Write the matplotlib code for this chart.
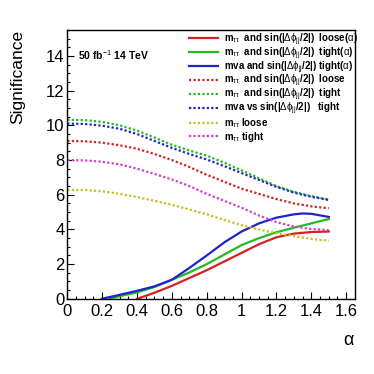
import matplotlib
matplotlib.use("Agg")
import matplotlib.pyplot as plt
from matplotlib.ticker import MultipleLocator

plt.rcParams['font.family'] = ['Liberation Sans', 'DejaVu Sans']
plt.rcParams['mathtext.fontset'] = 'custom'
plt.rcParams['mathtext.rm'] = 'Liberation Sans'
plt.rcParams['mathtext.it'] = 'Liberation Sans'
plt.rcParams['mathtext.bf'] = 'Liberation Sans:bold'

# dotted (fixed-cut) curves, alpha grid
x_dot = [0.0, 0.1, 0.2, 0.3, 0.4, 0.5, 0.6, 0.7, 0.8, 0.9, 1.0, 1.1, 1.2, 1.3, 1.4, 1.5]
mtt_sin_loose = [9.10, 9.08, 9.00, 8.85, 8.65, 8.35, 8.00, 7.60, 7.15, 6.75, 6.35, 6.05, 5.75, 5.50, 5.33, 5.22]
mtt_sin_tight = [10.32, 10.30, 10.20, 10.00, 9.70, 9.30, 8.88, 8.55, 8.25, 7.85, 7.40, 6.95, 6.50, 6.17, 5.92, 5.72]
mva_sin_tight = [10.10, 10.08, 9.98, 9.80, 9.50, 9.10, 8.70, 8.35, 8.03, 7.65, 7.25, 6.85, 6.45, 6.12, 5.88, 5.70]
mtt_loose = [6.28, 6.27, 6.20, 6.05, 5.87, 5.65, 5.42, 5.15, 4.87, 4.55, 4.25, 4.00, 3.78, 3.62, 3.45, 3.35]
mtt_tight = [8.00, 7.98, 7.90, 7.75, 7.50, 7.20, 6.88, 6.50, 6.05, 5.65, 5.25, 4.80, 4.42, 4.17, 4.02, 3.96]

# alpha-dependent curves
x_red = [0.40, 0.5, 0.6, 0.7, 0.8, 0.9, 1.0, 1.1, 1.2, 1.3, 1.4, 1.5]
y_red = [0.00, 0.35, 0.75, 1.20, 1.65, 2.15, 2.65, 3.15, 3.55, 3.76, 3.85, 3.88]
x_green = [0.245, 0.3, 0.4, 0.5, 0.6, 0.7, 0.8, 0.9, 1.0, 1.1, 1.2, 1.3, 1.4, 1.5]
y_green = [0.00, 0.15, 0.37, 0.68, 1.10, 1.52, 2.00, 2.55, 3.10, 3.50, 3.84, 4.10, 4.35, 4.60]
x_blue = [0.197, 0.3, 0.4, 0.5, 0.6, 0.7, 0.8, 0.9, 1.0, 1.1, 1.2, 1.3, 1.35, 1.4, 1.5]
y_blue = [0.00, 0.23, 0.46, 0.72, 1.10, 1.78, 2.50, 3.25, 3.88, 4.35, 4.68, 4.87, 4.92, 4.90, 4.72]

labels = [
    r'm$_{\tau\tau}$  and sin(|$\Delta\phi_{jj}$/2|)  loose($\alpha$)',
    r'm$_{\tau\tau}$  and sin(|$\Delta\phi_{jj}$/2|)  tight($\alpha$)',
    r'mva and sin(|$\Delta\phi_{jj}$/2|) tight($\alpha$)',
    r'm$_{\tau\tau}$  and sin(|$\Delta\phi_{jj}$/2|)  loose',
    r'm$_{\tau\tau}$  and sin(|$\Delta\phi_{jj}$/2|)  tight',
    r'mva vs sin(|$\Delta\phi_{jj}$/2|)   tight',
    r'm$_{\tau\tau}$ loose',
    r'm$_{\tau\tau}$ tight',
]

RED = '#d42222'
GREEN = '#22bb22'
BLUE = '#2222cc'
YELLOW = '#c8bf22'
MAG = '#d040d0'

fig = plt.figure(figsize=(3.74, 3.74), dpi=100)
ax = fig.add_axes([0.180, 0.201, 0.769, 0.719])

lw_s = 1.6
lw_d = 1.6
dot = (0, (1, 1))
h = []
h += ax.plot(x_red, y_red, color=RED, lw=lw_s, label=labels[0])
h += ax.plot(x_green, y_green, color=GREEN, lw=lw_s, label=labels[1])
h += ax.plot(x_blue, y_blue, color=BLUE, lw=lw_s, label=labels[2])
h += ax.plot(x_dot, mtt_sin_loose, color=RED, lw=lw_d, ls=dot, label=labels[3])
h += ax.plot(x_dot, mtt_sin_tight, color=GREEN, lw=lw_d, ls=dot, label=labels[4])
h += ax.plot(x_dot, mva_sin_tight, color=BLUE, lw=lw_d, ls=dot, label=labels[5])
h += ax.plot(x_dot, mtt_loose, color=YELLOW, lw=lw_d, ls=dot, label=labels[6])
h += ax.plot(x_dot, mtt_tight, color=MAG, lw=lw_d, ls=dot, label=labels[7])

ax.set_xlim(0, 1.65)
ax.set_ylim(0, 15.5)
ax.xaxis.set_minor_locator(MultipleLocator(0.05))
ax.yaxis.set_major_locator(MultipleLocator(2))
ax.yaxis.set_minor_locator(MultipleLocator(0.5))
ax.set_xticks([0, 0.2, 0.4, 0.6, 0.8, 1.0, 1.2, 1.4, 1.6])
ax.set_xticklabels(['0', '0.2', '0.4', '0.6', '0.8', '1', '1.2', '1.4', '1.6'])
ax.tick_params(which='both', direction='in', top=False, right=False, labelsize=12, width=0.8)
ax.tick_params(which='major', length=5)
ax.tick_params(axis='x', which='major', pad=4)
ax.tick_params(axis='y', which='major', pad=2)
ax.tick_params(which='minor', length=2.5)
for s in ax.spines.values():
    s.set_linewidth(1.0)

legkw = dict(frameon=False, handlelength=3.0, handletextpad=0.6,
             borderaxespad=0.0, prop={'weight': 'bold', 'size': 7})
leg1 = ax.legend(h[:6], labels[:6], loc='center left', bbox_to_anchor=(0.4105, 0.835),
                 labelspacing=-0.25, **legkw)
ax.add_artist(leg1)
ax.legend(h[6:], labels[6:], loc='center left', bbox_to_anchor=(0.4105, 0.628),
          labelspacing=-0.05, **legkw)

fig.text(0.208, 0.853, r'50 fb$^{-1}$ 14 TeV', fontsize=7.5, fontweight='bold', va='center', ha='left')
fig.text(0.047, 0.92, 'Significance', rotation=90, fontsize=12.5, va='top', ha='center')
fig.text(0.948, 0.09, r'$\alpha$', fontsize=13, ha='right', va='center')

fig.savefig('out.png', dpi=100)
